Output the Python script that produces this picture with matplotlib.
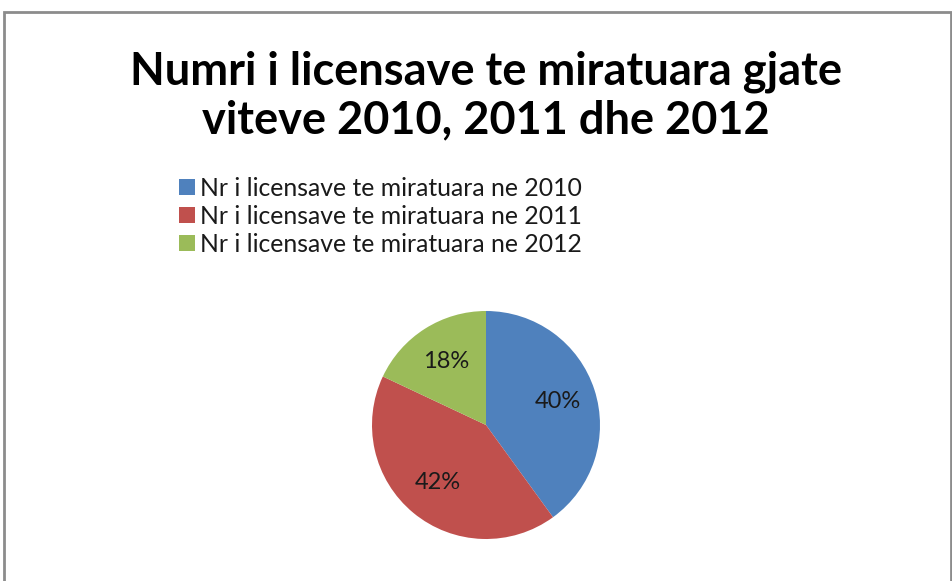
import matplotlib
matplotlib.use("Agg")
import matplotlib.pyplot as plt
from matplotlib.patches import Rectangle

# data
labels = ["Nr i licensave te miratuara ne 2010",
          "Nr i licensave te miratuara ne 2011",
          "Nr i licensave te miratuara ne 2012"]
values = [40, 42, 18]
colors = ["#4F81BD", "#C0504D", "#9BBB59"]
title = "Numri i licensave te miratuara gjate\nviteve 2010, 2011 dhe 2012"

plt.rcParams['font.family'] = ['Lato', 'DejaVu Sans']

W, H = 953, 581
fig = plt.figure(figsize=(W / 100, H / 100), dpi=100)

# gray frame (bottom edge is cut off)
fig.patches.append(Rectangle((4 / W, -0.1), 947 / W, 1.1 - 12 / H,
                             transform=fig.transFigure, fill=False,
                             edgecolor="#8c8c8c", linewidth=2))

fig.text(486 / W, 1 - 96 / H, title, ha="center", va="center",
         fontsize=32.5, fontweight="bold", color="black", linespacing=1.17)

cx, cy, r = 486, 425, 114
ax = fig.add_axes([(cx - r) / W, (H - cy - r) / H, 2 * r / W, 2 * r / H])
wedges, texts, autotexts = ax.pie(values, colors=colors, startangle=90,
                                  counterclock=False, autopct="%d%%",
                                  pctdistance=0.66,
                                  wedgeprops=dict(linewidth=0),
                                  textprops=dict(fontsize=17, color="#1a1a1a"))
ax.set_xlim(-1, 1)
ax.set_ylim(-1, 1)
ax.set_aspect("equal")
ax.axis("off")

fig.legend(wedges, labels, loc="upper left", bbox_to_anchor=(169 / W, 1 - 167 / H),
           frameon=False, fontsize=17.8, handlelength=0.65, handleheight=0.65,
           handletextpad=0.2, labelspacing=0.2, borderaxespad=0,
           labelcolor="#1a1a1a")

fig.savefig("out.png", dpi=100, facecolor="white")
